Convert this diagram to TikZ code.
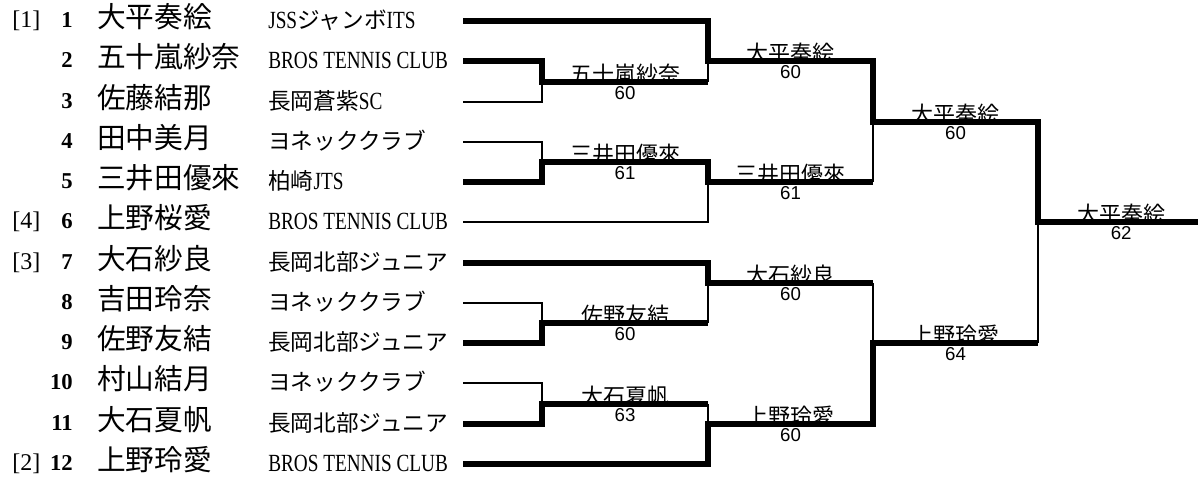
\documentclass[tikz,border=0pt]{standalone}
\usepackage{fontspec}
\setmainfont{Liberation Serif}
\newfontfamily\jp{Noto Sans CJK JP}
\newfontfamily\latn{Liberation Serif}[FakeStretch=0.78]
\newfontfamily\digits{Liberation Sans}
\usepackage{tikz}
\usetikzlibrary{calc}

\newcommand{\en}[1]{{\latn\fontsize{18.5}{20}\selectfont #1}}

\tikzset{
	win/.style={line width=4.5pt},
	lose/.style={line width=1.2pt},
	seedtag/.style={anchor=base west, inner sep=0pt, font=\fontsize{18}{20}\selectfont},
	entryno/.style={anchor=base east, inner sep=0pt, font=\bfseries\fontsize{17}{18}\selectfont},
	player/.style={anchor=base west, inner sep=0pt, font=\jp\fontsize{21.5}{24}\selectfont},
	club/.style={anchor=base west, inner sep=0pt, font=\jp\fontsize{17}{18}\selectfont},
	winner/.style={anchor=base, inner sep=0pt, font=\jp\fontsize{16.5}{18}\selectfont},
	score/.style={anchor=base, yshift=-13pt, inner sep=0pt, font=\digits\fontsize{14}{16}\selectfont}
}

\begin{document}
\begin{tikzpicture}[x=0.75pt, y=-0.75pt]
		\useasboundingbox (0,0) rectangle (1198,479);

		% entries
		\node[seedtag] (sd1) at (12,27) {[1]};
		\node[entryno] (k1) at (73,27) {1};
		\node[player] (n1) at (97,27) {大平奏絵};
		\node[club] (t1) at (268,28) {\en{JSS}ジャンボ\en{ITS}};

		\node[entryno] (k2) at (73,67) {2};
		\node[player] (n2) at (97,67) {五十嵐紗奈};
		\node[club] (t2) at (268,68) {\en{BROS TENNIS CLUB}};

		\node[entryno] (k3) at (73,108) {3};
		\node[player] (n3) at (97,108) {佐藤結那};
		\node[club] (t3) at (268,109) {長岡蒼紫\en{SC}};

		\node[entryno] (k4) at (73,148) {4};
		\node[player] (n4) at (97,148) {田中美月};
		\node[club] (t4) at (268,149) {ヨネッククラブ};

		\node[entryno] (k5) at (73,188) {5};
		\node[player] (n5) at (97,188) {三井田優來};
		\node[club] (t5) at (268,189) {柏崎\en{JTS}};

		\node[seedtag] (sd4) at (12,228) {[4]};
		\node[entryno] (k6) at (73,228) {6};
		\node[player] (n6) at (97,228) {上野桜愛};
		\node[club] (t6) at (268,229) {\en{BROS TENNIS CLUB}};

		\node[seedtag] (sd3) at (12,269) {[3]};
		\node[entryno] (k7) at (73,269) {7};
		\node[player] (n7) at (97,269) {大石紗良};
		\node[club] (t7) at (268,270) {長岡北部ジュニア};

		\node[entryno] (k8) at (73,309) {8};
		\node[player] (n8) at (97,309) {吉田玲奈};
		\node[club] (t8) at (268,310) {ヨネッククラブ};

		\node[entryno] (k9) at (73,349) {9};
		\node[player] (n9) at (97,349) {佐野友結};
		\node[club] (t9) at (268,350) {長岡北部ジュニア};

		\node[entryno] (k10) at (73,389) {10};
		\node[player] (n10) at (97,389) {村山結月};
		\node[club] (t10) at (268,390) {ヨネッククラブ};

		\node[entryno] (k11) at (73,430) {11};
		\node[player] (n11) at (97,430) {大石夏帆};
		\node[club] (t11) at (268,431) {長岡北部ジュニア};

		\node[seedtag] (sd2) at (12,470) {[2]};
		\node[entryno] (k12) at (73,470) {12};
		\node[player] (n12) at (97,470) {上野玲愛};
		\node[club] (t12) at (268,471) {\en{BROS TENNIS CLUB}};

		% bracket points
		\coordinate (p1) at (463,21);
		\coordinate (p2) at (463,61);
		\coordinate (p3) at (463,102);
		\coordinate (p4) at (463,142);
		\coordinate (p5) at (463,182);
		\coordinate (p6) at (463,222);
		\coordinate (p7) at (463,263);
		\coordinate (p8) at (463,303);
		\coordinate (p9) at (463,343);
		\coordinate (p10) at (463,383);
		\coordinate (p11) at (463,424);
		\coordinate (p12) at (463,464);
		\coordinate (a1) at (542,82);
		\coordinate (a2) at (542,162);
		\coordinate (a3) at (542,323);
		\coordinate (a4) at (542,404);
		\coordinate (b1) at (708,61);
		\coordinate (b2) at (708,182);
		\coordinate (b3) at (708,283);
		\coordinate (b4) at (708,424);
		\coordinate (c1) at (873,122);
		\coordinate (c2) at (873,343);
		\coordinate (fin) at (1038,222);
		\coordinate (champ) at (1198,222);

		% winners and scores
		\node[winner] (w1) at ($(a1)!.5!(a1-|b1)$) {五十嵐紗奈};
		\node[score] (s1) at (w1.base) {60};
		\node[winner] (w2) at ($(a2)!.5!(a2-|b2)$) {三井田優來};
		\node[score] (s2) at (w2.base) {61};
		\node[winner] (w3) at ($(a3)!.5!(a3-|b3)$) {佐野友結};
		\node[score] (s3) at (w3.base) {60};
		\node[winner] (w4) at ($(a4)!.5!(a4-|b4)$) {大石夏帆};
		\node[score] (s4) at (w4.base) {63};
		\node[winner] (w5) at ($(b1)!.5!(b1-|c1)$) {大平奏絵};
		\node[score] (s5) at (w5.base) {60};
		\node[winner] (w6) at ($(b2)!.5!(b2-|c1)$) {三井田優來};
		\node[score] (s6) at (w6.base) {61};
		\node[winner] (w7) at ($(b3)!.5!(b3-|c2)$) {大石紗良};
		\node[score] (s7) at (w7.base) {60};
		\node[winner] (w8) at ($(b4)!.5!(b4-|c2)$) {上野玲愛};
		\node[score] (s8) at (w8.base) {60};
		\node[winner] (w9) at ($(c1)!.5!(c1-|fin)$) {大平奏絵};
		\node[score] (s9) at (w9.base) {60};
		\node[winner] (w10) at ($(c2)!.5!(c2-|fin)$) {上野玲愛};
		\node[score] (s10) at (w10.base) {64};
		\node[winner] (w11) at ($(fin)!.52!(champ)$) {大平奏絵};
		\node[score] (s11) at (w11.base) {62};

		% bracket
		\draw[win] (p1) -| (b1) -| (c1) -| (fin) -- (champ);
		\draw[win] (p2) -| (a1) -- (a1-|b1);
		\draw[lose] (a1-|b1) -- (b1);
		\draw[lose] (p3) -| (a1);
		\draw[lose] (p4) -| (a2);
		\draw[win] (p5) -| (a2) -| (b2) -- (b2-|c1);
		\draw[lose] (b2-|c1) -- (c1);
		\draw[lose] (p6) -| (b2);
		\draw[win] (p7) -| (b3) -- (b3-|c2);
		\draw[lose] (b3-|c2) -- (c2);
		\draw[lose] (p8) -| (a3);
		\draw[win] (p9) -| (a3) -- (a3-|b3);
		\draw[lose] (a3-|b3) -- (b3);
		\draw[lose] (p10) -| (a4);
		\draw[win] (p11) -| (a4) -- (a4-|b4);
		\draw[lose] (a4-|b4) -- (b4);
		\draw[win] (p12) -| (b4) -| (c2) -- (c2-|fin);
		\draw[lose] (c2-|fin) -- (fin);
\end{tikzpicture}
\end{document}
